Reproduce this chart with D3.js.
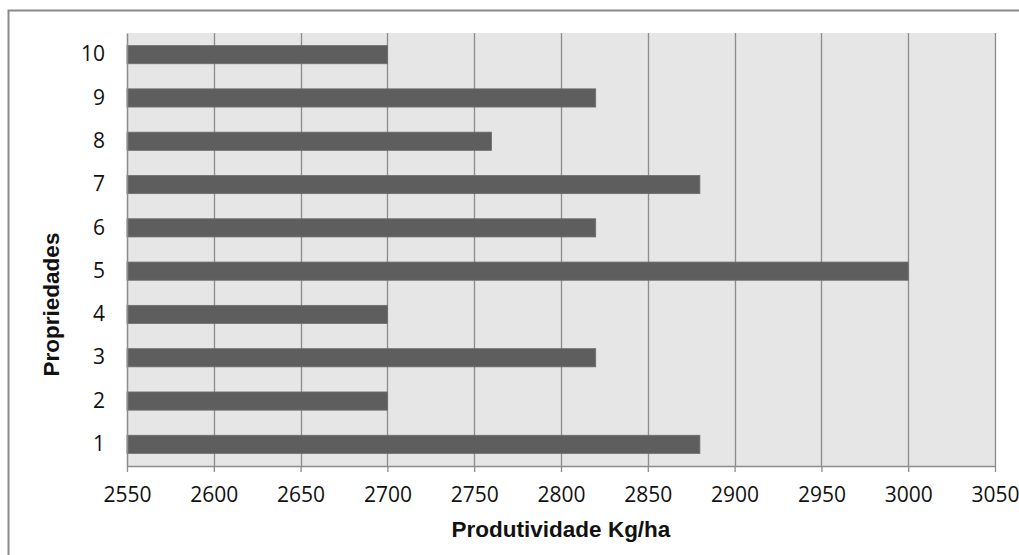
<!DOCTYPE html>
<html>
<head>
<meta charset="utf-8">
<script src="https://cdn.jsdelivr.net/npm/d3@7"></script>
<style>
  html, body { margin: 0; padding: 0; background: #fff; }
  svg { display: block; }
</style>
</head>
<body>
<svg id="chart" width="1019" height="555"></svg>
<script>
// Productivity per property (Kg/ha)
const properties = ["1", "2", "3", "4", "5", "6", "7", "8", "9", "10"];
const productivity = [2880, 2700, 2820, 2700, 3000, 2820, 2880, 2760, 2820, 2700];
const xTicks = [2550, 2600, 2650, 2700, 2750, 2800, 2850, 2900, 2950, 3000, 3050];
const xTitle = "Produtividade Kg/ha";
const yTitle = "Propriedades";

const svg = d3.select("#chart");
const W = 1019, H = 555;
const plot = { left: 127, right: 995, top: 33, bottom: 466 };

// outer frame (only top and left edges fall inside the view)
svg.append("rect")
  .attr("x", 8.5).attr("y", 10.5)
  .attr("width", W + 20).attr("height", H + 20)
  .attr("fill", "#fff").attr("stroke", "#8a8a8a").attr("stroke-width", 2);

const x = d3.scaleLinear().domain([2550, 3050]).range([plot.left, plot.right]);
const y = d3.scaleBand().domain(properties.slice().reverse())
  .range([plot.top, plot.bottom]).paddingInner(0.58).paddingOuter(0.29);

// plot background
svg.append("rect")
  .attr("x", plot.left).attr("y", plot.top)
  .attr("width", plot.right - plot.left).attr("height", plot.bottom - plot.top)
  .attr("fill", "#e6e6e6");

// vertical gridlines
svg.append("g").selectAll("line")
  .data(xTicks.slice(1))
  .join("line")
  .attr("x1", d => Math.round(x(d)) + 0.5).attr("x2", d => Math.round(x(d)) + 0.5)
  .attr("y1", plot.top).attr("y2", plot.bottom)
  .attr("stroke", "#8c8c8c").attr("stroke-width", 1.3);

// bars
svg.append("g").selectAll("rect")
  .data(properties.map((p, i) => ({ p, v: productivity[i] })))
  .join("rect")
  .attr("x", x(2550))
  .attr("y", d => y(d.p))
  .attr("width", d => x(d.v) - x(2550))
  .attr("height", y.bandwidth())
  .attr("fill", "#5e5e5e")
  .attr("stroke", "#6e6e6e").attr("stroke-width", 0.8);

const tickFont = "'Open Sans', 'Noto Sans', sans-serif";

// x axis
const xAxis = svg.append("g")
  .attr("transform", `translate(0,${plot.bottom})`)
  .call(d3.axisBottom(x).tickValues(xTicks).tickFormat(d3.format("d"))
    .tickSize(6).tickSizeOuter(0).tickPadding(15));
xAxis.select(".domain").attr("stroke", "#8c8c8c").attr("stroke-width", 1.5);
xAxis.selectAll(".tick line").attr("stroke", "#8c8c8c").attr("stroke-width", 1.3);
xAxis.selectAll(".tick text")
  .attr("fill", "#111")
  .style("font-family", tickFont)
  .style("font-size", "21px");

// y axis
const yAxis = svg.append("g")
  .attr("transform", `translate(${plot.left},0)`)
  .call(d3.axisLeft(y).tickSize(0).tickPadding(22));
yAxis.select(".domain").attr("stroke", "#8c8c8c").attr("stroke-width", 1.5);
yAxis.selectAll(".tick text")
  .attr("fill", "#111")
  .style("font-family", tickFont)
  .style("font-size", "21px");

// axis titles
svg.append("text")
  .attr("x", (plot.left + plot.right) / 2).attr("y", 537)
  .attr("text-anchor", "middle")
  .attr("fill", "#111")
  .style("font-family", "'Liberation Sans', Arial, sans-serif")
  .style("font-weight", "bold").style("font-size", "22.5px")
  .text(xTitle);

svg.append("text")
  .attr("transform", `translate(59,${(plot.top + plot.bottom) / 2 + 55}) rotate(-90)`)
  .attr("text-anchor", "middle")
  .attr("fill", "#111")
  .style("font-family", "'Liberation Sans', Arial, sans-serif")
  .style("font-weight", "bold").style("font-size", "22.5px")
  .text(yTitle);
</script>
</body>
</html>
